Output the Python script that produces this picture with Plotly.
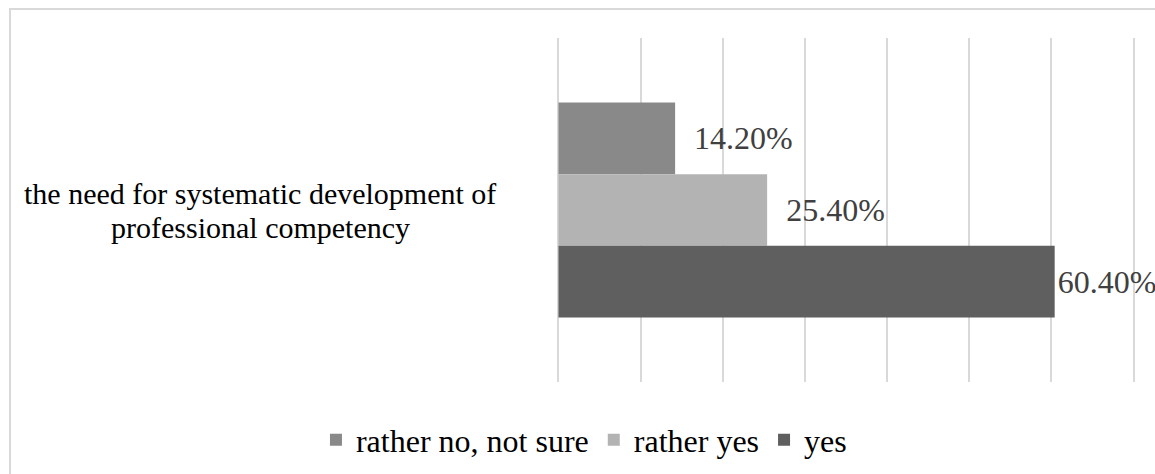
import plotly.graph_objects as go

category = ["the need for systematic development of professional competency"]
category_lines = ["the need for systematic development of", "professional competency"]
series_names = ["rather no, not sure", "rather yes", "yes"]
series_values = [[14.2], [25.4], [60.4]]
x_ticks = [0, 10, 20, 30, 40, 50, 60, 70]

# styles
series_colors = ["#898989", "#b3b3b3", "#5f5f5f"]
label_pad = ["\u00a0\u00a0", "\u00a0\u00a0", ""]
line_shift = [17, -17]
FONT = "Liberation Serif, Times New Roman, serif"

fig = go.Figure()
for name, vals, col, pad in zip(series_names, series_values, series_colors, label_pad):
    fig.add_trace(go.Bar(
        y=category, x=vals, name=name, orientation="h",
        marker=dict(color=col, line=dict(width=0)),
        text=[f"{v:.2f}%" for v in vals],
        texttemplate=pad + "%{text}",
        textposition="outside",
        textfont=dict(family=FONT, size=32, color="#404040"),
        cliponaxis=False, constraintext="none",
        hoverinfo="skip",
    ))

for line, shift in zip(category_lines, line_shift):
    fig.add_annotation(
        x=-0.5103, xref="paper", y=category[0], yref="y", yshift=shift,
        text=line, showarrow=False, align="center",
        xanchor="center", yanchor="middle",
        font=dict(family=FONT, size=30, color="#000000"),
    )

# outer chart frame
fig.add_shape(type="rect", xref="paper", yref="paper",
              x0=-0.9414, x1=1.08, y0=-0.4, y1=1.0843,
              line=dict(color="#d9d9d9", width=2), fillcolor="rgba(0,0,0,0)", layer="below")

fig.update_layout(
    width=1155, height=474,
    margin=dict(l=556, r=19, t=38, b=92),
    paper_bgcolor="white", plot_bgcolor="white",
    barmode="group", bargap=0.375, bargroupgap=0,
    showlegend=True,
    legend=dict(orientation="h", xref="container", yref="container",
                x=0.5056, xanchor="center", y=0.0717, yanchor="middle",
                traceorder="normal",
                font=dict(family=FONT, size=32, color="#000000"),
                itemwidth=30),
    xaxis=dict(range=[-0.3, 70.3], tickvals=x_ticks, showticklabels=False,
               showgrid=True, gridcolor="#d9d9d9", gridwidth=1.5,
               zeroline=False, showline=False, ticks=""),
    yaxis=dict(autorange="reversed", showticklabels=False, showgrid=False,
               zeroline=False, showline=False, ticks=""),
)

fig.write_html("out.html", config={"displayModeBar": False},
               post_script="document.body.style.margin='0px';")
